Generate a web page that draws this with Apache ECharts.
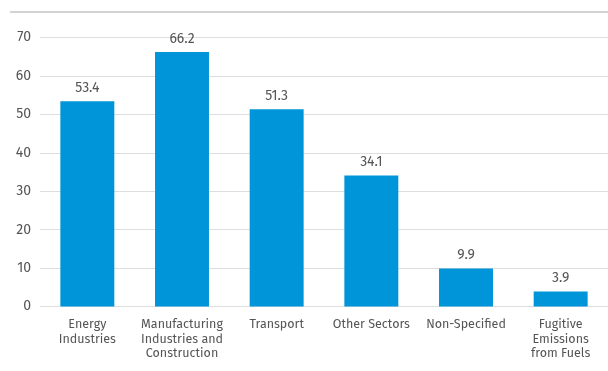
<!DOCTYPE html>
<html>
<head>
<meta charset="utf-8">
<script src="https://cdn.jsdelivr.net/npm/echarts@6/dist/echarts.min.js"></script>
<style>
  html, body { margin: 0; padding: 0; background: #fff; }
  #chart { width: 608px; height: 371px; }
</style>
</head>
<body>
<div id="chart"></div>
<script>
// Emissions by sector
const categories = [
  'Energy\nIndustries',
  'Manufacturing\nIndustries and\nConstruction',
  'Transport',
  'Other Sectors',
  'Non-Specified',
  'Fugitive\nEmissions\nfrom Fuels'
];
const values = [53.4, 66.2, 51.3, 34.1, 9.9, 3.9];
const yTicks = [0, 10, 20, 30, 40, 50, 60, 70];

const font = '"Fira Sans", "Noto Sans", "Open Sans", sans-serif';
const chart = echarts.init(document.getElementById('chart'), null, { renderer: 'canvas' });

chart.setOption({
  animation: false,
  backgroundColor: '#ffffff',
  grid: { left: 40, right: 0, top: 37.5, bottom: 64.5, containLabel: false },
  graphic: [{
    type: 'line',
    shape: { x1: 10, y1: 12, x2: 608, y2: 12 },
    style: { stroke: '#c4c4c4', lineWidth: 1.5 }
  }],
  xAxis: {
    type: 'category',
    data: categories,
    axisLine: { show: false },
    axisTick: { show: false },
    axisLabel: {
      interval: 0,
      color: '#555555',
      fontFamily: font,
      fontSize: 12.5,
      lineHeight: 14.5,
      margin: 11
    }
  },
  yAxis: {
    type: 'value',
    min: yTicks[0],
    max: yTicks[yTicks.length - 1],
    interval: 10,
    axisLine: { show: false },
    axisTick: { show: false },
    splitLine: { lineStyle: { color: '#dedede', width: 1 } },
    axisLabel: {
      color: '#555555',
      fontFamily: font,
      fontSize: 14,
      margin: 9
    }
  },
  series: [{
    type: 'bar',
    data: values,
    barWidth: '57%',
    itemStyle: { color: '#0095d9' },
    label: {
      show: true,
      position: 'top',
      distance: 6,
      color: '#555555',
      fontFamily: font,
      fontSize: 14,
      formatter: p => p.value.toFixed(1)
    }
  }]
});
</script>
</body>
</html>
